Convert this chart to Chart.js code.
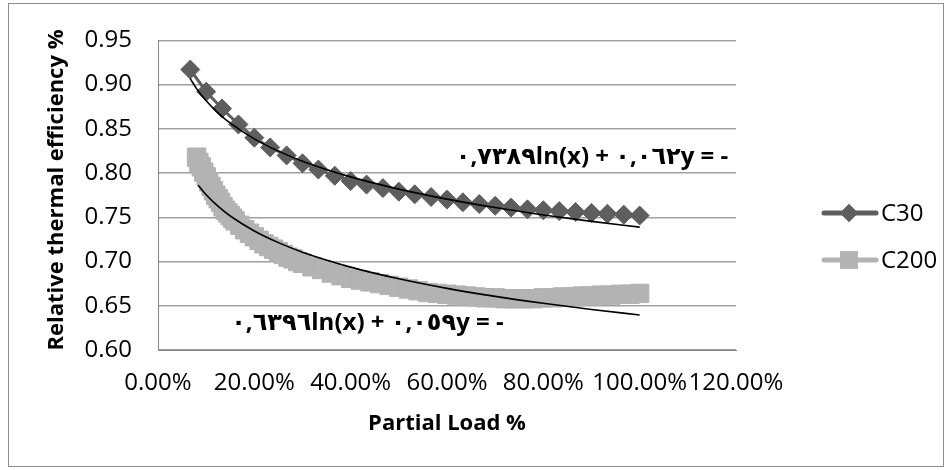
<!DOCTYPE html>
<html>
<head>
<meta charset="utf-8">
<script src="https://cdn.jsdelivr.net/npm/chart.js@4.4.0/dist/chart.umd.min.js"></script>
<style>
  html, body { margin: 0; padding: 0; background: #fff; }
  #chart { display: block; }
</style>
</head>
<body>
<canvas id="chart" width="951" height="470"></canvas>
<script>
// Data
const seriesNames = ['C30', 'C200'];

const xC30 = [0.067, 0.1, 0.133, 0.167, 0.2, 0.233, 0.267, 0.3, 0.333, 0.367, 0.4, 0.433, 0.467, 0.5,
  0.533, 0.567, 0.6, 0.633, 0.667, 0.7, 0.733, 0.767, 0.8, 0.833, 0.867, 0.9, 0.933, 0.967, 1.0];
const yC30 = [0.917, 0.892, 0.873, 0.855, 0.840, 0.829, 0.820, 0.811, 0.804, 0.797, 0.791, 0.787, 0.783, 0.779,
  0.776, 0.773, 0.770, 0.767, 0.765, 0.763, 0.761, 0.759, 0.758, 0.757, 0.756, 0.755, 0.754, 0.753, 0.752];

const xC200 = [0.080, 0.085, 0.090, 0.095, 0.100, 0.105, 0.110, 0.115, 0.120, 0.125, 0.130, 0.135, 0.140,
  0.145, 0.150, 0.155, 0.160, 0.17, 0.18, 0.19, 0.20, 0.21, 0.22, 0.23, 0.24, 0.25, 0.26, 0.27, 0.28, 0.29,
  0.30, 0.32, 0.34, 0.36, 0.38, 0.40, 0.42, 0.44, 0.46, 0.48, 0.50, 0.52, 0.54, 0.56, 0.58, 0.60, 0.62,
  0.64, 0.66, 0.68, 0.70, 0.72, 0.74, 0.76, 0.78, 0.80, 0.82, 0.84, 0.86, 0.88, 0.90, 0.92, 0.94, 0.96,
  0.98, 1.00];
const yC200 = [0.818, 0.812, 0.807, 0.801, 0.796, 0.790, 0.785, 0.780, 0.775, 0.771, 0.767, 0.762, 0.758,
  0.755, 0.752, 0.749, 0.746, 0.741, 0.736, 0.732, 0.728, 0.724, 0.720, 0.717, 0.714, 0.711, 0.708, 0.705,
  0.703, 0.700, 0.698, 0.694, 0.691, 0.687, 0.684, 0.681, 0.679, 0.677, 0.675, 0.673, 0.671, 0.669, 0.667,
  0.665, 0.664, 0.663, 0.662, 0.661, 0.660, 0.659, 0.659, 0.658, 0.658, 0.658, 0.658, 0.659, 0.659, 0.660,
  0.660, 0.661, 0.661, 0.662, 0.662, 0.663, 0.663, 0.664];

// trendlines (log fits shown on the chart)
const xTrend30 = [0.067, 0.08, 0.1, 0.125, 0.15, 0.2, 0.25, 0.3, 0.4, 0.5, 0.6, 0.7, 0.8, 0.9, 1.0];
const yTrend30 = [0.9068, 0.8955, 0.8817, 0.8678, 0.8565, 0.8387, 0.8248, 0.8135, 0.7957, 0.7819, 0.7706,
  0.7610, 0.7527, 0.7454, 0.7389];
const xTrend200 = [0.0833, 0.1, 0.125, 0.15, 0.2, 0.25, 0.3, 0.4, 0.5, 0.6, 0.7, 0.8, 0.9, 1.0];
const yTrend200 = [0.7862, 0.7755, 0.7623, 0.7515, 0.7346, 0.7214, 0.7106, 0.6937, 0.6805, 0.6697, 0.6606,
  0.6528, 0.6458, 0.6396];

const eqC30 = '٠,٧٣٨٩ln(x) + ٠,٠٦٢y = -';
const eqC200 = '٠,٦٣٩٦ln(x) + ٠,٠٥٩y = -';
const xTitle = 'Partial Load %';
const yTitle = 'Relative thermal efficiency %';

const colC30 = '#5e5e5e';
const colC200 = '#b3b3b3';
const FONT = '"Open Sans", "DejaVu Sans", sans-serif';

const pts = (xs, ys) => xs.map((x, i) => ({ x: x, y: ys[i] }));

// titles, equations, legend, border
const decor = {
  id: 'decor',
  beforeDraw(chart) {
    const ctx = chart.ctx;
    ctx.save();
    ctx.fillStyle = '#fff';
    ctx.fillRect(0, 0, chart.width, chart.height);
    ctx.strokeStyle = '#8c8c8c';
    ctx.lineWidth = 1;
    ctx.strokeRect(8.5, 3.5, 935, 463);
    ctx.restore();
  },
  afterDraw(chart) {
    const ctx = chart.ctx;
    const xs = chart.scales.x, ys = chart.scales.y;
    ctx.save();
    ctx.fillStyle = '#000';
    ctx.textBaseline = 'middle';

    // axis titles
    ctx.font = 'bold 22px ' + FONT;
    ctx.textAlign = 'center';
    ctx.fillText(xTitle, (chart.chartArea.left + chart.chartArea.right) / 2, 424);
    ctx.save();
    ctx.translate(57, 190);
    ctx.rotate(-Math.PI / 2);
    ctx.fillText(yTitle, 0, 0);
    ctx.restore();

    // trendline equations
    ctx.font = 'bold 24px ' + FONT;
    ctx.direction = 'ltr';
    ctx.textAlign = 'right';
    ctx.fillText(eqC30, xs.getPixelForValue(1.184), ys.getPixelForValue(0.8175));
    ctx.textAlign = 'left';
    ctx.fillText(eqC200, xs.getPixelForValue(0.152), ys.getPixelForValue(0.6305));

    // legend
    const items = [
      { name: seriesNames[0], color: colC30, style: 'rectRot', r: 9, y: 213 },
      { name: seriesNames[1], color: colC200, style: 'rect', r: 12.5, y: 260 }
    ];
    items.forEach(it => {
      ctx.strokeStyle = it.color;
      ctx.lineWidth = 5;
      ctx.lineCap = 'round';
      ctx.beginPath();
      ctx.moveTo(824, it.y);
      ctx.lineTo(876, it.y);
      ctx.stroke();
      ctx.fillStyle = it.color;
      Chart.helpers.drawPoint(ctx, { pointStyle: it.style, radius: it.r, borderWidth: 0 }, 849, it.y);
      ctx.fill();
      ctx.fillStyle = '#000';
      ctx.font = '24px ' + FONT;
      ctx.textAlign = 'left';
      ctx.fillText(it.name, 881, it.y + 1);
    });
    ctx.restore();
  }
};

new Chart(document.getElementById('chart'), {
  type: 'scatter',
  data: {
    datasets: [
      {
        label: 'trend C30', data: pts(xTrend30, yTrend30), showLine: true, order: 0,
        borderColor: '#000', borderWidth: 1.6, pointRadius: 0, cubicInterpolationMode: 'monotone', fill: false
      },
      {
        label: 'trend C200', data: pts(xTrend200, yTrend200), showLine: true, order: 0,
        borderColor: '#000', borderWidth: 1.6, pointRadius: 0, cubicInterpolationMode: 'monotone', fill: false
      },
      {
        label: seriesNames[0], data: pts(xC30, yC30), showLine: true, order: 1,
        borderColor: colC30, backgroundColor: colC30, borderWidth: 3,
        pointStyle: 'rectRot', pointRadius: 9.5, pointBorderWidth: 1, pointBorderColor: colC30
      },
      {
        label: seriesNames[1], data: pts(xC200, yC200), showLine: true, order: 1,
        borderColor: colC200, backgroundColor: colC200, borderWidth: 3,
        pointStyle: 'rect', pointRadius: 13, pointBorderWidth: 1, pointBorderColor: colC200
      }
    ]
  },
  options: {
    responsive: false,
    animation: false,
    devicePixelRatio: 1,
    layout: { padding: { left: 0, right: 215, top: 32, bottom: 0 } },
    plugins: { legend: { display: false }, tooltip: { enabled: false } },
    scales: {
      x: {
        type: 'linear', min: 0, max: 1.2,
        afterFit: s => { s.height = 120; },
        grid: { display: false },
        border: { display: true, color: '#868686', width: 1 },
        ticks: {
          stepSize: 0.2, padding: 11, color: '#000', font: { family: FONT, size: 24 },
          maxRotation: 0, autoSkip: false,
          callback: v => (v * 100).toFixed(2) + '%'
        }
      },
      y: {
        type: 'linear', min: 0.6, max: 0.95,
        afterFit: s => { s.width = 158; },
        grid: { color: '#a0a0a0', lineWidth: 1.5, drawTicks: false },
        border: { display: true, color: '#868686', width: 1 },
        ticks: {
          stepSize: 0.05, padding: 26, color: '#000', font: { family: FONT, size: 24 },
          callback: v => v.toFixed(2)
        }
      }
    }
  },
  plugins: [decor]
});
</script>
</body>
</html>
